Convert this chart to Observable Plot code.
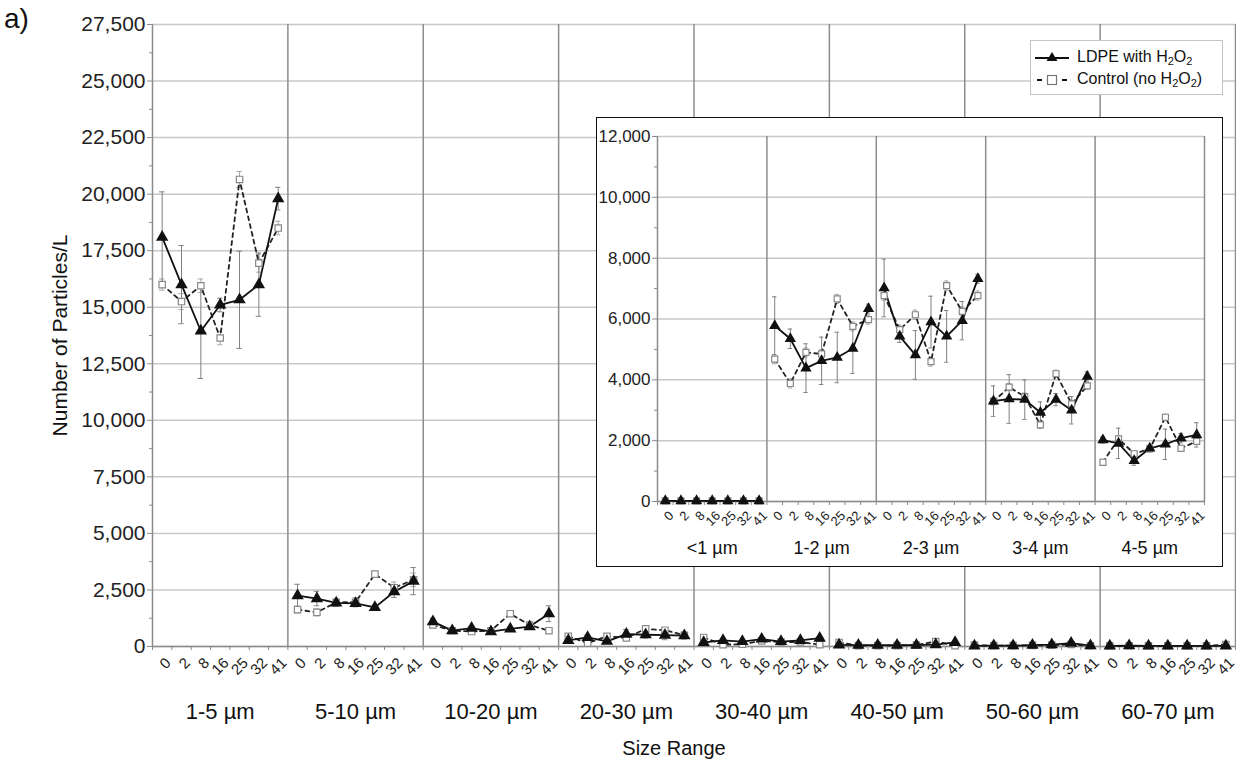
<!DOCTYPE html>
<html>
<head>
<meta charset="utf-8">
<script src="https://cdn.jsdelivr.net/npm/d3@7"></script>
<script src="https://cdn.jsdelivr.net/npm/@observablehq/plot@0.6"></script>
<style>
  body { margin: 0; background: #fff; font-family: "Liberation Sans", Arial, sans-serif; }
  #wrap { position: relative; width: 1236px; height: 763px; overflow: hidden; }
  #main { position: absolute; left: 0; top: 0; }
  #inset { position: absolute; left: 596px; top: 117px; width: 625px; height: 448px;
           border: 1.5px solid #111; background: #fff; }
  #panel-tag { position: absolute; left: 4px; top: 3px; font-size: 28px; color: #111; }
  #legend { position: absolute; left: 1030px; top: 40px; width: 191px; height: 53px;
            border: 1px solid #c4c4c4; background: #fff; font-size: 16px; color: #111; }
  #legend .row { position: absolute; left: 2px; height: 22px; display: flex; align-items: center; white-space: nowrap; }
  #legend sub { font-size: 11px; vertical-align: -3px; }
  #legend svg { margin-right: 6px; }
</style>
</head>
<body>
<div id="wrap">
  <div id="main"></div>
  <div id="inset"></div>
  <div id="panel-tag">a)</div>
  <div id="legend">
    <div class="row" style="top:5px">
      <svg width="38" height="20"><line x1="2" y1="11" x2="36" y2="11" stroke="#111" stroke-width="2"/><polygon points="19,5 24.5,14 13.5,14" fill="#111"/></svg>
      <span>LDPE with H<sub>2</sub>O<sub>2</sub></span>
    </div>
    <div class="row" style="top:27px">
      <svg width="38" height="20"><line x1="4" y1="11" x2="9" y2="11" stroke="#111" stroke-width="2"/><rect x="14.5" y="6.5" width="9" height="9" fill="#fff" stroke="#777" stroke-width="1.2"/><line x1="29" y1="11" x2="34" y2="11" stroke="#111" stroke-width="2"/></svg>
      <span>Control (no H<sub>2</sub>O<sub>2</sub>)</span>
    </div>
  </div>
</div>
<script>
// Sampling times (days) within every size range
const times = [0, 2, 8, 16, 25, 32, 41];

// Main chart: size ranges 1-70 µm
const mainRanges = ["1-5 µm", "5-10 µm", "10-20 µm", "20-30 µm", "30-40 µm", "40-50 µm", "50-60 µm", "60-70 µm"];
const mainLdpe = [
  [18100, 16000, 13950, 15100, 15330, 16000, 19800],
  [2250, 2120, 1930, 1910, 1730, 2420, 2890],
  [1100, 700, 810, 660, 780, 880, 1450],
  [270, 400, 230, 550, 520, 500, 480],
  [180, 270, 220, 330, 220, 270, 370],
  [70, 60, 60, 60, 60, 80, 180],
  [30, 40, 40, 60, 80, 150, 40],
  [30, 40, 30, 30, 30, 30, 30]
];
const mainLdpeErr = [
  [2000, 1730, 2100, 300, 2150, 1400, 500],
  [500, 320, 150, 150, 100, 250, 600],
  [150, 80, 80, 80, 80, 100, 350],
  [80, 120, 80, 200, 150, 200, 150],
  [50, 60, 50, 60, 50, 60, 70],
  [30, 20, 20, 20, 20, 30, 50],
  [20, 20, 20, 20, 30, 40, 20],
  [10, 10, 10, 10, 10, 10, 10]
];
const mainControl = [
  [16000, 15250, 15950, 13640, 20650, 16950, 18500],
  [1630, 1510, 1950, 1960, 3200, 2600, 2950],
  [950, 700, 660, 700, 1450, 950, 700],
  [450, 150, 450, 380, 780, 720, 500],
  [400, 80, 100, 250, 200, 200, 80],
  [180, 40, 40, 40, 60, 220, 40],
  [60, 40, 40, 50, 60, 90, 30],
  [30, 30, 30, 30, 30, 30, 90]
];
const mainControlErr = [
  [250, 350, 300, 300, 350, 400, 300],
  [150, 150, 150, 200, 100, 250, 300],
  [100, 60, 60, 60, 100, 80, 60],
  [60, 40, 60, 60, 80, 80, 60],
  [40, 20, 20, 30, 30, 30, 20],
  [20, 10, 10, 10, 10, 20, 10],
  [10, 10, 10, 10, 10, 10, 10],
  [10, 10, 10, 10, 10, 10, 10]
];
const mainYTicks = [0, 2500, 5000, 7500, 10000, 12500, 15000, 17500, 20000, 22500, 25000, 27500];

// Inset: size ranges below 5 µm
const insetRanges = ["<1 µm", "1-2 µm", "2-3 µm", "3-4 µm", "4-5 µm"];
const insetLdpe = [
  [20, 20, 20, 20, 20, 20, 20],
  [5780, 5350, 4385, 4625, 4735, 5030, 6340],
  [7020, 5430, 4820, 5900, 5430, 5945, 7320],
  [3300, 3370, 3350, 2925, 3350, 3000, 4110],
  [2020, 1910, 1340, 1750, 1880, 2080, 2190]
];
const insetLdpeErr = [
  [0, 0, 0, 0, 0, 0, 0],
  [950, 320, 800, 780, 830, 820, 150],
  [950, 200, 800, 850, 850, 630, 150],
  [500, 800, 650, 350, 200, 450, 150],
  [100, 500, 150, 100, 500, 150, 400]
];
const insetControl = [
  [20, 20, 20, 20, 20, 20, 20],
  [4680, 3880, 4900, 4850, 6660, 5760, 5980],
  [6770, 5650, 6140, 4600, 7100, 6250, 6770],
  [3290, 3760, 3450, 2520, 4200, 3210, 3800],
  [1290, 2060, 1570, 1730, 2770, 1750, 1980]
];
const insetControlErr = [
  [0, 0, 0, 0, 0, 0, 0],
  [150, 150, 150, 150, 150, 150, 150],
  [150, 150, 150, 150, 150, 150, 150],
  [120, 120, 120, 120, 120, 120, 120],
  [100, 100, 100, 100, 100, 100, 100]
];
const insetYTicks = [0, 2000, 4000, 6000, 8000, 10000, 12000];

const thousands = d3.format(",");

// One row per (size range, time); x is the slot centre on a continuous index
function buildRows(ranges, values, errors) {
  const rows = [];
  ranges.forEach((range, p) => times.forEach((t, k) => {
    rows.push({range, panel: p, time: t, x: p * times.length + k + 0.5, v: values[p][k], e: errors[p][k]});
  }));
  return rows;
}

function panelChart({ranges, ldpe, ldpeErr, control, controlErr, yTicks, yMax,
                     width, height, margins, tickFont, timeFont, rangeFont, rangeDy, timeDx, timeDy, capHalf, triR, sqR}) {
  const n = ranges.length * times.length;
  const ldpeRows = buildRows(ranges, ldpe, ldpeErr);
  const ctrlRows = buildRows(ranges, control, controlErr);
  const minor = yTicks.slice(0, -1).map((t, i) => (t + yTicks[i + 1]) / 2);
  const seps = d3.range(1, ranges.length + 1).map(i => i * times.length);
  const errMarks = (rows, stroke) => [
    Plot.ruleX(rows.filter(d => d.e > 0), {x: "x", y1: d => d.v - d.e, y2: d => d.v + d.e, stroke, strokeWidth: 1}),
    Plot.ruleY(rows.filter(d => d.e > 0), {y: d => d.v - d.e, x1: d => d.x - capHalf, x2: d => d.x + capHalf, stroke, strokeWidth: 1}),
    Plot.ruleY(rows.filter(d => d.e > 0), {y: d => d.v + d.e, x1: d => d.x - capHalf, x2: d => d.x + capHalf, stroke, strokeWidth: 1})
  ];
  return Plot.plot({
    width, height,
    marginLeft: margins[0], marginRight: margins[1], marginTop: margins[2], marginBottom: margins[3],
    style: {fontFamily: "'Liberation Sans', Arial, sans-serif", color: "#222", background: "transparent", overflow: "visible"},
    x: {domain: [0, n], axis: null},
    y: {domain: [0, yMax], axis: null},
    marks: [
      Plot.ruleY(yTicks, {stroke: "#c8c8c8", strokeWidth: 1.5}),
      Plot.ruleX(seps, {stroke: "#8c8c8c", strokeWidth: 1.5}),
      Plot.ruleX([0], {stroke: "#8c8c8c", strokeWidth: 1.5}),
      Plot.ruleY([0], {stroke: "#8c8c8c", strokeWidth: 1.5}),
      Plot.axisY({ticks: yTicks, tickFormat: thousands, label: null, fontSize: tickFont, tickSize: 5, tickPadding: 2, stroke: "#8c8c8c", fill: "#222"}),
      Plot.axisY({ticks: minor, tickFormat: () => "", label: null, tickSize: 3, stroke: "#8c8c8c"}),
      Plot.axisX({ticks: d3.range(n + 1), tickFormat: () => "", label: null, tickSize: 4, stroke: "#8c8c8c"}),
      ...errMarks(ctrlRows, "#a8a8a8"),
      ...errMarks(ldpeRows, "#808080"),
      Plot.line(ctrlRows, {x: "x", y: "v", z: "panel", stroke: "#222", strokeWidth: 1.8, strokeDasharray: "4,4"}),
      Plot.line(ldpeRows, {x: "x", y: "v", z: "panel", stroke: "#111", strokeWidth: 1.8}),
      Plot.dot(ctrlRows, {x: "x", y: "v", symbol: "square", r: sqR, fill: "#fff", stroke: "#888", strokeWidth: 1.2}),
      Plot.dot(ldpeRows, {x: "x", y: "v", symbol: "triangle", r: triR, fill: "#111"}),
      Plot.text(ldpeRows, {x: "x", y: () => 0, text: d => String(d.time), rotate: -45, textAnchor: "end",
                           lineAnchor: "middle", dx: timeDx, dy: timeDy, fontSize: timeFont, fill: "#222"}),
      Plot.text(ranges, {x: (d, i) => i * times.length + times.length / 2, y: () => 0, text: d => d,
                         dy: rangeDy, fontSize: rangeFont, lineAnchor: "middle", fill: "#111"})
    ]
  });
}

const mainChart = panelChart({
  ranges: mainRanges, ldpe: mainLdpe, ldpeErr: mainLdpeErr, control: mainControl, controlErr: mainControlErr,
  yTicks: mainYTicks, yMax: 27500, width: 1236, height: 763, margins: [152, 1, 24, 117],
  tickFont: 21, timeFont: 15, rangeFont: 22, rangeDy: 65, timeDx: 6, timeDy: 14, capHalf: 0.14, triR: 4.6, sqR: 3.6
});
// Axis titles of the main chart
const titles = Plot.plot({
  width: 1236, height: 763, marginLeft: 152, marginRight: 1, marginTop: 24, marginBottom: 117,
  style: {fontFamily: "'Liberation Sans', Arial, sans-serif", background: "transparent", overflow: "visible"},
  x: {axis: null}, y: {axis: null},
  marks: [
    Plot.text(["Number of Particles/L"], {frameAnchor: "left", textAnchor: "middle", lineAnchor: "middle",
                                          rotate: -90, dx: -92, fontSize: 21, fill: "#111"}),
    Plot.text(["Size Range"], {frameAnchor: "bottom", textAnchor: "middle", lineAnchor: "middle",
                               dx: -20, dy: 102, fontSize: 20, fill: "#111"})
  ]
});
titles.style.position = "absolute"; titles.style.left = "0px"; titles.style.top = "0px";
document.getElementById("main").append(mainChart, titles);

const insetChart = panelChart({
  ranges: insetRanges, ldpe: insetLdpe, ldpeErr: insetLdpeErr, control: insetControl, controlErr: insetControlErr,
  yTicks: insetYTicks, yMax: 12000, width: 625, height: 448, margins: [60, 18, 18, 65],
  tickFont: 17, timeFont: 13, rangeFont: 18, rangeDy: 47, timeDx: 6, timeDy: 12, capHalf: 0.14, triR: 4.2, sqR: 3.4
});
document.getElementById("inset").append(insetChart);
</script>
</body>
</html>
